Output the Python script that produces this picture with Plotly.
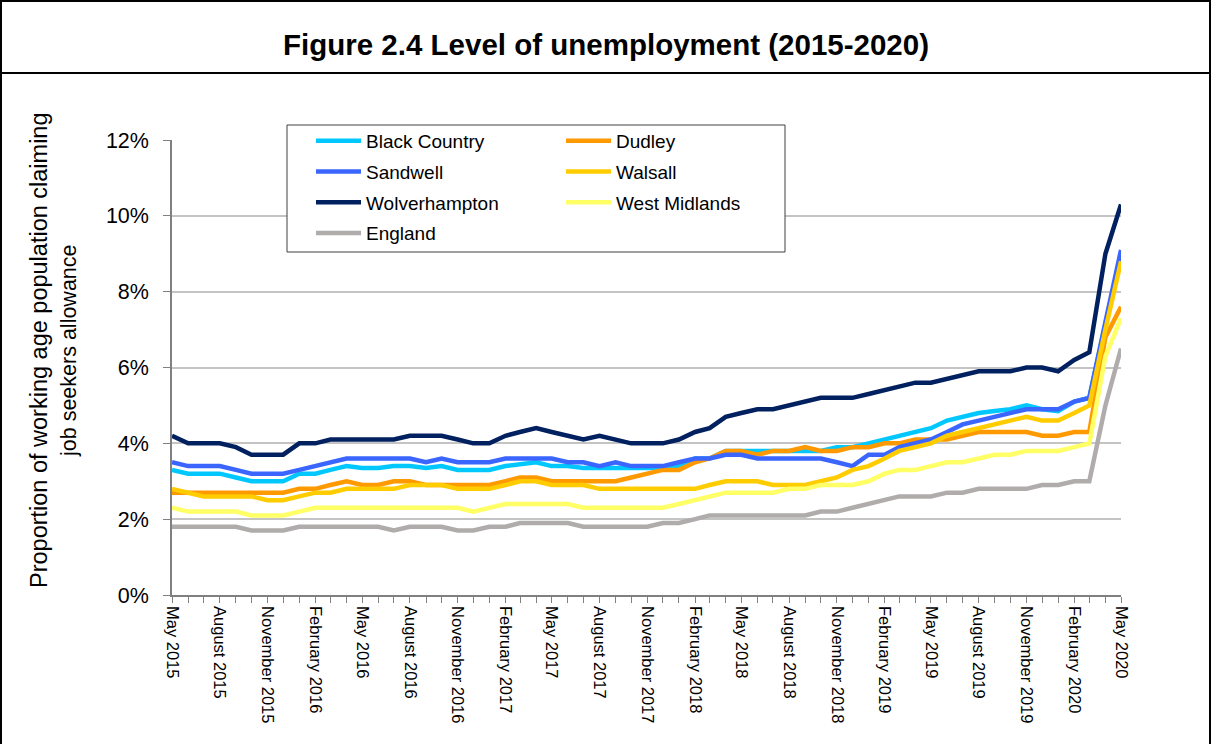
import pandas as pd
import plotly.graph_objects as go

# ---------------- data ----------------
months = pd.date_range("2015-05-01", periods=61, freq="MS")

black_country = [3.3, 3.2, 3.2, 3.2, 3.1, 3.0, 3.0, 3.0, 3.2, 3.2, 3.3, 3.4, 3.35, 3.35, 3.4, 3.4,
                 3.35, 3.4, 3.3, 3.3, 3.3, 3.4, 3.45, 3.5, 3.4, 3.4, 3.35, 3.35, 3.35, 3.35, 3.35,
                 3.35, 3.4, 3.6, 3.6, 3.8, 3.8, 3.8, 3.8, 3.8, 3.8, 3.8, 3.9, 3.9, 4.0, 4.1, 4.2,
                 4.3, 4.4, 4.6, 4.7, 4.8, 4.85, 4.9, 5.0, 4.9, 4.85, 5.1, 5.2, 7.1, 9.0]
sandwell = [3.5, 3.4, 3.4, 3.4, 3.3, 3.2, 3.2, 3.2, 3.3, 3.4, 3.5, 3.6, 3.6, 3.6, 3.6, 3.6,
            3.5, 3.6, 3.5, 3.5, 3.5, 3.6, 3.6, 3.6, 3.6, 3.5, 3.5, 3.4, 3.5, 3.4, 3.4,
            3.4, 3.5, 3.6, 3.6, 3.7, 3.7, 3.6, 3.6, 3.6, 3.6, 3.6, 3.5, 3.4, 3.7, 3.7, 3.9,
            4.0, 4.1, 4.3, 4.5, 4.6, 4.7, 4.8, 4.9, 4.9, 4.9, 5.1, 5.2, 7.2, 9.1]
wolverhampton = [4.2, 4.0, 4.0, 4.0, 3.9, 3.7, 3.7, 3.7, 4.0, 4.0, 4.1, 4.1, 4.1, 4.1, 4.1, 4.2,
                 4.2, 4.2, 4.1, 4.0, 4.0, 4.2, 4.3, 4.4, 4.3, 4.2, 4.1, 4.2, 4.1, 4.0, 4.0,
                 4.0, 4.1, 4.3, 4.4, 4.7, 4.8, 4.9, 4.9, 5.0, 5.1, 5.2, 5.2, 5.2, 5.3, 5.4, 5.5,
                 5.6, 5.6, 5.7, 5.8, 5.9, 5.9, 5.9, 6.0, 6.0, 5.9, 6.2, 6.4, 9.0, 10.3]
england = [1.8, 1.8, 1.8, 1.8, 1.8, 1.7, 1.7, 1.7, 1.8, 1.8, 1.8, 1.8, 1.8, 1.8, 1.7, 1.8,
           1.8, 1.8, 1.7, 1.7, 1.8, 1.8, 1.9, 1.9, 1.9, 1.9, 1.8, 1.8, 1.8, 1.8, 1.8,
           1.9, 1.9, 2.0, 2.1, 2.1, 2.1, 2.1, 2.1, 2.1, 2.1, 2.2, 2.2, 2.3, 2.4, 2.5, 2.6,
           2.6, 2.6, 2.7, 2.7, 2.8, 2.8, 2.8, 2.8, 2.9, 2.9, 3.0, 3.0, 5.0, 6.5]
dudley = [2.7, 2.7, 2.7, 2.7, 2.7, 2.7, 2.7, 2.7, 2.8, 2.8, 2.9, 3.0, 2.9, 2.9, 3.0, 3.0,
          2.9, 2.9, 2.9, 2.9, 2.9, 3.0, 3.1, 3.1, 3.0, 3.0, 3.0, 3.0, 3.0, 3.1, 3.2,
          3.3, 3.3, 3.5, 3.6, 3.8, 3.8, 3.7, 3.8, 3.8, 3.9, 3.8, 3.8, 3.9, 3.9, 4.0, 4.0,
          4.1, 4.1, 4.1, 4.2, 4.3, 4.3, 4.3, 4.3, 4.2, 4.2, 4.3, 4.3, 6.8, 7.6]
walsall = [2.8, 2.7, 2.6, 2.6, 2.6, 2.6, 2.5, 2.5, 2.6, 2.7, 2.7, 2.8, 2.8, 2.8, 2.8, 2.9,
           2.9, 2.9, 2.8, 2.8, 2.8, 2.9, 3.0, 3.0, 2.9, 2.9, 2.9, 2.8, 2.8, 2.8, 2.8,
           2.8, 2.8, 2.8, 2.9, 3.0, 3.0, 3.0, 2.9, 2.9, 2.9, 3.0, 3.1, 3.3, 3.4, 3.6, 3.8,
           3.9, 4.0, 4.2, 4.3, 4.4, 4.5, 4.6, 4.7, 4.6, 4.6, 4.8, 5.0, 7.0, 8.8]
west_midlands = [2.3, 2.2, 2.2, 2.2, 2.2, 2.1, 2.1, 2.1, 2.2, 2.3, 2.3, 2.3, 2.3, 2.3, 2.3, 2.3,
                 2.3, 2.3, 2.3, 2.2, 2.3, 2.4, 2.4, 2.4, 2.4, 2.4, 2.3, 2.3, 2.3, 2.3, 2.3,
                 2.3, 2.4, 2.5, 2.6, 2.7, 2.7, 2.7, 2.7, 2.8, 2.8, 2.9, 2.9, 2.9, 3.0, 3.2, 3.3,
                 3.3, 3.4, 3.5, 3.5, 3.6, 3.7, 3.7, 3.8, 3.8, 3.8, 3.9, 4.0, 6.3, 7.3]

series = [
    ("Black Country", black_country, "#00C8FF", "legend"),
    ("Dudley", dudley, "#FF9900", "legend2"),
    ("Sandwell", sandwell, "#3A66FF", "legend"),
    ("Walsall", walsall, "#FFCC00", "legend2"),
    ("Wolverhampton", wolverhampton, "#002060", "legend"),
    ("West Midlands", west_midlands, "#FFFF66", "legend2"),
    ("England", england, "#B0ACAC", "legend"),
]

y_ticks = [0, 2, 4, 6, 8, 10, 12]
y_ticktext = [f"{v}%" for v in y_ticks]
y_title_lines = ["Proportion of working age population claiming", "job seekers allowance"]
chart_title = "Figure 2.4 Level of unemployment (2015-2020)"

# ---------------- layout geometry (pixels) ----------------
W, H = 1212, 744
L, R, T, B = 172, 1121, 140, 595
PW, PH = R - L, B - T


def px(x):
    return (x - L) / PW


def py(y):
    return (B - y) / PH


FONT = "Arial, Liberation Sans, sans-serif"

fig = go.Figure()
for name, vals, color, lg in series:
    fig.add_trace(go.Scatter(
        x=months, y=vals, name=name, mode="lines",
        line=dict(color=color, width=4.5),
        legend=lg, legendgroup=name,
    ))

y_title = (f'<span style="font-size:23.5px">{y_title_lines[0]}</span><br>'
           f'<span style="font-size:21.5px">{y_title_lines[1]}</span>')

fig.update_layout(
    width=W, height=H,
    margin=dict(l=L, r=W - R, t=T, b=H - B),
    paper_bgcolor="white", plot_bgcolor="white",
    font=dict(family=FONT, color="black"),
    showlegend=True,
    title=dict(text="<b>" + chart_title + "</b>", x=0.5, xref="container",
               y=1 - 45 / H, yref="container", yanchor="middle", xanchor="center",
               font=dict(family=FONT, size=29.5, color="black")),
    legend=dict(x=px(311), y=py(122), xanchor="left", yanchor="top",
                bgcolor="rgba(0,0,0,0)", borderwidth=0, tracegroupgap=3,
                font=dict(family=FONT, size=19, color="black"), itemwidth=45),
    legend2=dict(x=px(561), y=py(122), xanchor="left", yanchor="top",
                 bgcolor="rgba(0,0,0,0)", borderwidth=0, tracegroupgap=3,
                 font=dict(family=FONT, size=19, color="black"), itemwidth=45),
    xaxis=dict(
        type="date", range=[months[0], months[-1]],
        tick0=months[0], dtick="M3", tickformat="%B %Y", tickangle=90,
        ticks="outside", ticklen=6, tickcolor="#808080", tickwidth=1,
        minor=dict(dtick="M1", ticks="outside", ticklen=6, tickcolor="#808080", tickwidth=1),
        showline=True, linecolor="#808080", linewidth=1.5,
        showgrid=False, zeroline=False,
        tickfont=dict(family=FONT, size=16.5, color="black"),
    ),
    yaxis=dict(
        range=[0, 12], tickmode="array", tickvals=y_ticks, ticktext=y_ticktext,
        ticks="outside", ticklen=7, tickcolor="#808080", ticklabelstandoff=10,
        showline=True, linecolor="#808080", linewidth=1.5,
        showgrid=True, gridcolor="#C4C4C4", gridwidth=2, zeroline=False,
        tickfont=dict(family=FONT, size=21.5, color="black"),
    ),
    annotations=[dict(
        text=y_title, textangle=-90, xref="paper", yref="paper",
        x=px(53), y=py(350), xanchor="center", yanchor="middle", showarrow=False,
        font=dict(family=FONT, size=22, color="black"),
    )],
    shapes=[
        # outer frame
        dict(type="rect", xref="paper", yref="paper", x0=px(1), x1=px(1210), y0=py(760), y1=py(1),
             line=dict(color="black", width=2), fillcolor="rgba(0,0,0,0)", layer="above"),
        # title separator
        dict(type="line", xref="paper", yref="paper", x0=px(1), x1=px(1210), y0=py(73), y1=py(73),
             line=dict(color="black", width=2), layer="above"),
        # legend box
        dict(type="rect", xref="paper", yref="paper", x0=px(287), x1=px(785), y0=py(252), y1=py(125),
             line=dict(color="#404040", width=1), fillcolor="white", layer="above"),
    ],
)

fig.write_html("out.html", config={"displayModeBar": False},
               post_script="document.body.style.margin='0px';")
